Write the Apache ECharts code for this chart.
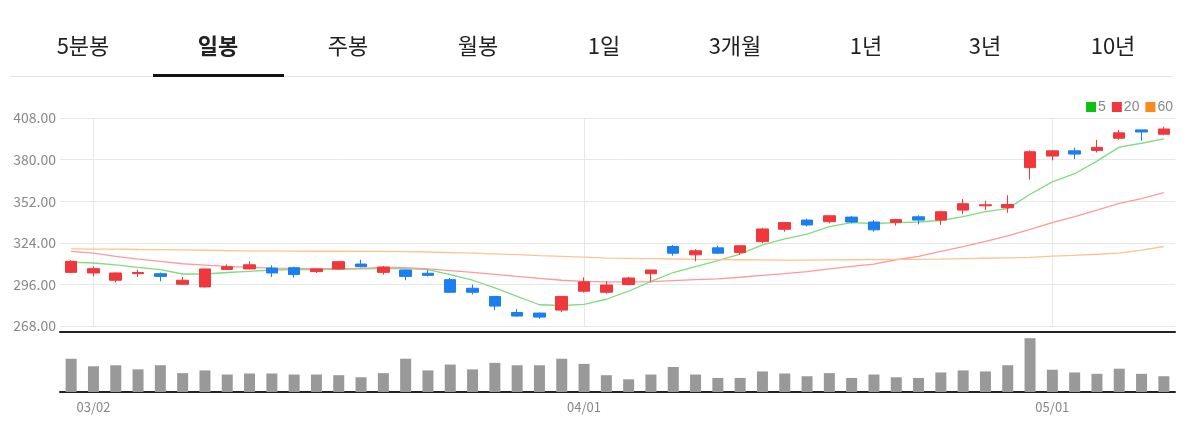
<!DOCTYPE html>
<html>
<head>
<meta charset="utf-8">
<script src="https://cdn.jsdelivr.net/npm/echarts@6/dist/echarts.min.js"></script>
<style>
  html, body { margin: 0; padding: 0; background: #fff; }
  #chart { width: 1183px; height: 424px; }
</style>
</head>
<body>
<div id="chart"></div>
<script>
// 날짜 (거래일)
var dates = ['02/27','03/02','03/03','03/04','03/05','03/06','03/09','03/10','03/11','03/12',
  '03/13','03/16','03/17','03/18','03/19','03/20','03/23','03/24','03/25','03/26',
  '03/27','03/30','03/31','04/01','04/02','04/03','04/06','04/07','04/08','04/09',
  '04/10','04/13','04/14','04/16','04/17','04/20','04/21','04/22','04/23','04/24',
  '04/27','04/28','04/29','04/30','05/01','05/04','05/05','05/06','05/07','05/08'];
var tickDates = ['03/02', '04/01', '05/01'];
var yTicks = [268, 296, 324, 352, 380, 408];

// [open, close, low, high]
var ohlc = [
  [304.1,311.5,304.0,312.4],[303.7,306.6,301.4,308.1],[298.8,303.7,297.4,304.0],[303.2,304.0,301.0,305.9],
  [303.2,301.4,298.1,304.0],[296.1,298.8,295.6,301.0],[294.3,306.4,293.9,306.6],[306.1,307.9,305.9,309.5],
  [306.4,309.2,306.1,311.7],[307.0,303.7,301.0,308.8],[307.2,302.6,300.6,307.9],[304.6,306.4,303.7,306.8],
  [306.4,311.3,306.0,311.7],[309.7,307.9,307.4,312.6],[304.1,307.7,302.6,308.4],[305.7,301.4,298.8,306.0],
  [303.5,302.1,301.4,305.9],[299.2,290.7,290.5,300.3],[293.4,290.7,289.2,295.9],[287.9,281.4,278.7,288.0],
  [277.1,274.7,274.2,279.4],[276.7,274.0,272.9,277.0],[278.7,287.9,277.4,288.0],[291.4,297.7,290.5,300.8],
  [290.7,295.6,289.8,298.1],[295.9,300.3,295.4,301.0],[303.2,305.7,297.4,305.7],[321.5,317.0,315.3,322.6],
  [315.9,318.6,311.5,319.7],[320.6,317.0,316.6,322.0],[317.5,322.0,315.9,322.0],[324.8,333.3,323.7,334.0],
  [333.1,337.6,331.5,337.6],[339.3,336.0,334.9,340.2],[338.2,342.2,337.1,342.5],[341.3,338.0,337.1,342.0],
  [338.0,332.7,331.5,339.3],[337.6,339.6,335.6,340.2],[341.5,339.3,336.4,342.5],[339.3,344.9,336.0,345.1],
  [346.0,350.3,343.4,353.4],[348.9,349.6,346.0,352.3],[347.6,349.8,344.2,356.0],[374.6,385.3,366.5,386.2],
  [382.4,385.9,379.5,386.2],[385.9,383.7,380.4,388.0],[386.2,388.2,384.8,393.3],[394.4,398.0,393.3,400.0],
  [400.0,398.6,392.8,400.0],[397.1,400.6,396.4,402.2]
];

var ma5 = [311.0,310.4,309.2,307.5,305.9,303.0,303.0,304.0,304.8,305.7,
  305.9,305.9,306.1,306.4,306.6,306.6,305.9,302.6,298.8,293.6,
  288.0,282.3,281.8,282.5,286.0,291.4,298.0,304.0,308.0,312.0,
  316.4,322.6,326.6,329.8,334.9,337.6,337.0,337.6,338.0,339.0,
  341.6,345.0,347.0,356.7,365.0,370.5,379.0,388.4,391.0,394.0];
var ma20 = [318.2,317.0,314.8,313.0,311.5,309.9,309.0,308.1,307.4,307.0,
  306.8,306.6,306.6,306.8,307.4,307.2,306.4,305.3,304.1,302.8,
  301.4,300.1,298.8,298.1,297.7,297.7,297.9,298.6,299.2,299.7,
  300.8,302.1,303.2,304.6,306.4,308.1,309.7,312.6,314.8,318.2,
  321.5,324.9,328.6,333.1,337.6,341.6,346.0,350.5,353.8,357.8];
var ma60 = [319.9,319.8,319.7,319.5,319.4,319.2,319.0,318.8,318.6,318.5,
  318.4,318.3,318.3,318.2,318.2,318.1,317.8,317.4,317.0,316.6,
  316.0,315.4,314.9,314.4,313.7,313.5,313.3,313.1,312.8,312.7,
  312.6,312.5,312.4,312.4,312.5,312.6,312.7,312.8,312.9,313.0,
  313.3,313.6,313.9,314.2,315.0,315.5,316.3,317.0,319.0,321.5];
var volume = [97,75,78,66,78,55,63,51,54,54,51,51,49,43,55,97,63,80,66,85,
  78,78,97,82,49,37,51,73,51,41,41,60,54,46,55,41,51,43,41,57,
  63,60,78,157,65,57,53,68,53,46];

var tabs = ['5분봉', '일봉', '주봉', '월봉', '1일', '3개월', '1년', '3년', '10년'];
var tabX = [83, 218, 348, 478, 604, 735, 866, 985, 1113];

var upColor = '#f0383c', downColor = '#1a7ff0';
var font = '"Noto Sans CJK KR", "Noto Sans", sans-serif';
var isTick = function (i, v) { return tickDates.indexOf(v) >= 0; };

var graphics = [
  { type: 'rect', shape: { x: 10, y: 76, width: 1163, height: 1 }, style: { fill: '#e3e3e3' } },
  { type: 'rect', shape: { x: 153, y: 74, width: 131, height: 3 }, style: { fill: '#111' } }
];
tabs.forEach(function (t, i) {
  graphics.push({
    type: 'text', x: tabX[i], y: 46,
    style: { text: t, fill: '#222', font: (i === 1 ? 'bold ' : '') + '22px ' + font, align: 'center', verticalAlign: 'middle' }
  });
});

var myChart = echarts.init(document.getElementById('chart'));
myChart.setOption({
  animation: false,
  graphic: graphics,
  legend: {
    right: 5, top: 95, itemWidth: 10, itemHeight: 10, itemGap: 6, icon: 'rect',
    textStyle: { color: '#888', fontSize: 14, padding: [0, 0, 0, -3] },
    data: [
      { name: '5', itemStyle: { color: '#10c010' } },
      { name: '20', itemStyle: { color: '#f0383c' } },
      { name: '60', itemStyle: { color: '#f88a1e' } }
    ]
  },
  grid: [
    { left: 60, width: 1115, top: 118, height: 208 },
    { left: 60, width: 1115, top: 332, height: 60 }
  ],
  xAxis: [
    {
      type: 'category', data: dates, gridIndex: 0, offset: 6,
      axisLine: { lineStyle: { color: '#222', width: 2 } },
      axisTick: { show: false }, axisLabel: { show: false },
      splitLine: { show: false }
    },
    {
      type: 'category', data: dates, gridIndex: 1,
      axisLine: { lineStyle: { color: '#222', width: 2 } },
      axisTick: { alignWithLabel: true, length: 5, lineStyle: { color: '#222', width: 2 }, interval: isTick },
      axisLabel: { color: '#888', fontSize: 13, fontFamily: font, margin: 9, interval: isTick }
    }
  ],
  yAxis: [
    {
      type: 'value', gridIndex: 0, min: yTicks[0], max: yTicks[yTicks.length - 1], interval: 28,
      axisLine: { show: false }, axisTick: { show: false },
      axisLabel: { color: '#888', fontSize: 14, fontFamily: font, margin: 4, formatter: function (v) { return v.toFixed(2); } },
      splitLine: { lineStyle: { color: '#e8e8e8' } }
    },
    {
      type: 'value', gridIndex: 1, min: 0, max: 175,
      axisLine: { show: false }, axisTick: { show: false }, axisLabel: { show: false }, splitLine: { show: false }
    }
  ],
  series: [
    {
      type: 'candlestick', data: ohlc, barWidth: 12, z: 3,
      itemStyle: { color: upColor, color0: downColor, borderColor: upColor, borderColor0: downColor, borderWidth: 1 },
      markLine: {
        silent: true, symbol: 'none', label: { show: false }, z: 1,
        lineStyle: { color: '#e8e8e8', type: 'solid', width: 1 },
        data: tickDates.map(function (d) { return { xAxis: d }; })
      }
    },
    { name: '5', type: 'line', data: ma5, symbol: 'none', lineStyle: { color: '#7fdc7f', width: 1.3 } },
    { name: '20', type: 'line', data: ma20, symbol: 'none', lineStyle: { color: '#ff9a9c', width: 1.3 } },
    { name: '60', type: 'line', data: ma60, symbol: 'none', lineStyle: { color: '#ffc48e', width: 1.3 } },
    {
      type: 'bar', data: volume, xAxisIndex: 1, yAxisIndex: 1, barWidth: 11,
      itemStyle: { color: '#999' }
    }
  ]
});
</script>
</body>
</html>
